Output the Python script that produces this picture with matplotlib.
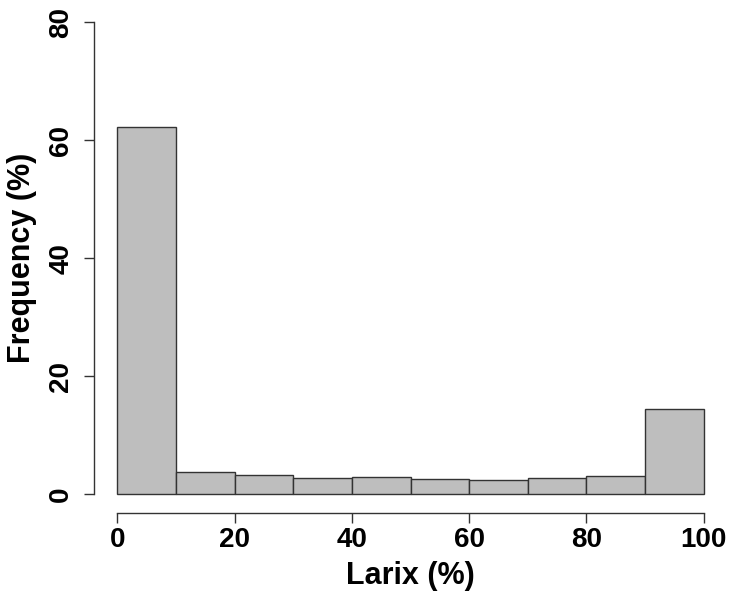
import matplotlib
matplotlib.use("Agg")
import matplotlib.pyplot as plt

bin_edges = [0, 10, 20, 30, 40, 50, 60, 70, 80, 90, 100]
freq_pct = [62.2, 3.7, 3.25, 2.8, 2.9, 2.6, 2.3, 2.75, 3.1, 14.4]
x_ticks = [0, 20, 40, 60, 80, 100]
y_ticks = [0, 20, 40, 60, 80]

plt.rcParams['font.family'] = ['Liberation Sans', 'DejaVu Sans']

W, H = 733, 596
fig = plt.figure(figsize=(W / 100, H / 100), dpi=100)
left, right = 93.8, 727.2
top, bottom = 3.4, 512.9
ax = fig.add_axes([left / W, 1 - bottom / H, (right - left) / W, (bottom - top) / H])

lefts = bin_edges[:-1]
widths = [bin_edges[i + 1] - bin_edges[i] for i in range(len(lefts))]
ax.bar(lefts, freq_pct, width=widths, align='edge', color='#BEBEBE',
       edgecolor='#333333', linewidth=1.0)

ax.set_xlim(-4, 104)
ax.set_ylim(-3.2, 83.2)
for s in ['top', 'right']:
    ax.spines[s].set_visible(False)
ax.spines['left'].set_bounds(0, 80)
ax.spines['bottom'].set_bounds(0, 100)
for s in ['left', 'bottom']:
    ax.spines[s].set_color('#333333')
    ax.spines[s].set_linewidth(1.0)

ax.set_xticks(x_ticks)
ax.set_yticks(y_ticks)
ax.set_xticklabels([str(v) for v in x_ticks], fontsize=20, fontweight='bold')
ax.set_yticklabels([str(v) for v in y_ticks], fontsize=20, fontweight='bold',
                   rotation=90, va='center')
ax.tick_params(axis='both', length=7, width=1.0, color='#333333')
ax.tick_params(axis='x', pad=3)
ax.tick_params(axis='y', pad=7)

ax.set_xlabel('Larix (%)', fontsize=22, fontweight='bold', labelpad=6)
ax.set_ylabel('Frequency (%)', fontsize=22, fontweight='bold', labelpad=8)

fig.savefig('out.png', dpi=100)
